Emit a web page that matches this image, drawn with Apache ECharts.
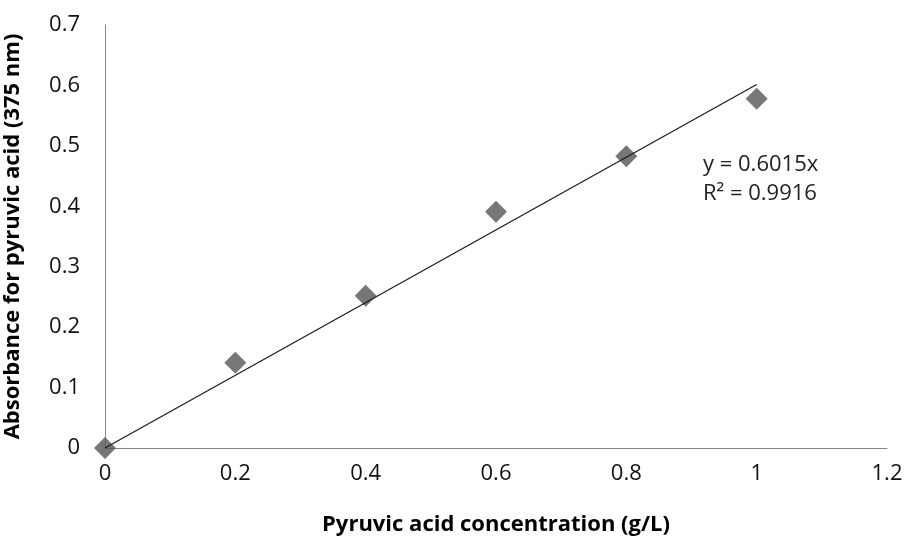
<!DOCTYPE html>
<html>
<head>
<meta charset="utf-8">
<script src="https://cdn.jsdelivr.net/npm/echarts@6/dist/echarts.min.js"></script>
<style>
html,body{margin:0;padding:0;background:#fff;}
#chart{width:906px;height:536px;}
</style>
</head>
<body>
<div id="chart"></div>
<script>
// Calibration data: pyruvic acid concentration vs absorbance
const concentration = [0, 0.2, 0.4, 0.6, 0.8, 1.0];
const absorbance = [0, 0.141, 0.252, 0.391, 0.483, 0.578];
// Linear fit through origin
const slope = 0.6015;
const rSquared = 0.9916;
const fitRange = [0, 1.0];
const xTicks = [0, 0.2, 0.4, 0.6, 0.8, 1, 1.2];
const yTicks = [0, 0.1, 0.2, 0.3, 0.4, 0.5, 0.6, 0.7];

const font = '"Open Sans", "Liberation Sans", sans-serif';
const points = concentration.map((x, i) => [x, absorbance[i]]);
const fitLine = fitRange.map(x => [x, slope * x]);

const chart = echarts.init(document.getElementById('chart'));
chart.setOption({
  animation: false,
  backgroundColor: '#ffffff',
  grid: { left: 105, right: 19, top: 25, bottom: 88, containLabel: false, outerBoundsMode: 'none' },
  xAxis: {
    type: 'value',
    min: xTicks[0],
    max: xTicks[xTicks.length - 1],
    interval: 0.2,
    name: 'Pyruvic acid concentration (g/L)',
    nameLocation: 'middle',
    nameGap: 66,
    nameTextStyle: { fontFamily: font, fontSize: 22, fontWeight: 'bold', color: '#000' },
    axisLine: { show: true, lineStyle: { color: '#868686', width: 1 } },
    axisTick: { show: false },
    splitLine: { show: false },
    axisLabel: { fontFamily: font, fontSize: 22, color: '#111', margin: 15,
      formatter: v => String(Math.round(v * 10) / 10) }
  },
  yAxis: {
    type: 'value',
    min: yTicks[0],
    max: yTicks[yTicks.length - 1],
    interval: 0.1,
    name: 'Absorbance for pyruvic acid (375 nm)',
    nameLocation: 'middle',
    nameGap: 81,
    nameTextStyle: { fontFamily: font, fontSize: 22, fontWeight: 'bold', color: '#000' },
    axisLine: { show: true, lineStyle: { color: '#868686', width: 1 } },
    axisTick: { show: false },
    splitLine: { show: false },
    axisLabel: { fontFamily: font, fontSize: 22, color: '#111', margin: 25,
      formatter: v => String(Math.round(v * 10) / 10) }
  },
  series: [
    {
      type: 'line',
      data: fitLine,
      showSymbol: false,
      symbol: 'none',
      lineStyle: { color: '#1a1a1a', width: 1.2 },
      z: 3
    },
    {
      type: 'scatter',
      data: points,
      symbol: 'diamond',
      symbolSize: [22, 22],
      itemStyle: { color: '#555555' },
      z: 2
    }
  ],
  graphic: [
    {
      type: 'text',
      left: 703,
      top: 154,
      style: { text: 'y = ' + slope + 'x', font: '22px ' + font, fill: '#222' }
    },
    {
      type: 'text',
      left: 703,
      top: 183,
      style: { text: 'R² = ' + rSquared, font: '22px ' + font, fill: '#222' }
    }
  ]
});
</script>
</body>
</html>
